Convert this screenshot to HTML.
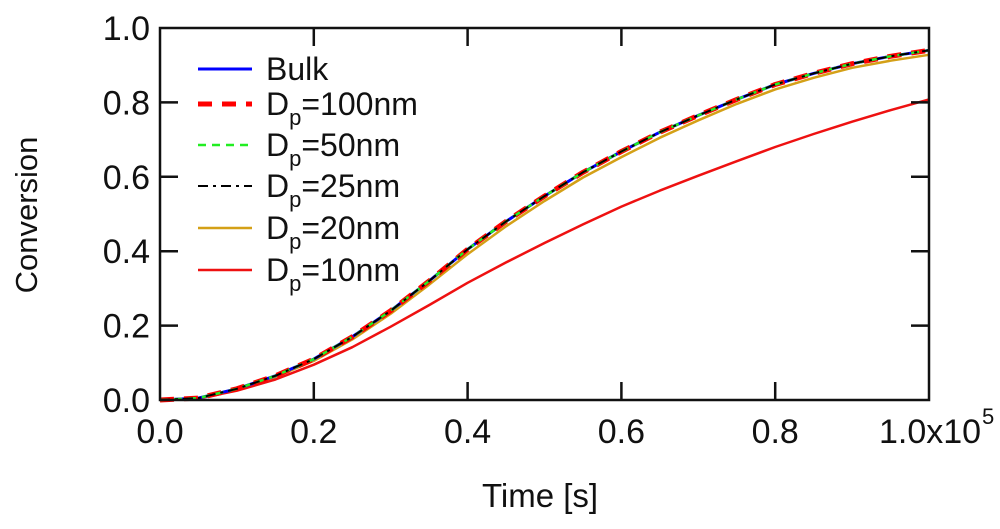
<!DOCTYPE html>
<html><head><meta charset="utf-8">
<style>
html,body{margin:0;padding:0;background:#fff;}
svg{display:block;font-family:"Liberation Sans",Arial,sans-serif;}
</style></head>
<body>
<svg id="chart" width="1000" height="529" viewBox="0 0 1000 529">
<g id="series"></g>
<g id="axes"></g>
<g id="legend"></g>
</svg>
<script>
const xs = [0, 0.05, 0.1, 0.15, 0.2, 0.25, 0.3, 0.35, 0.4, 0.45, 0.5, 0.55, 0.6, 0.65, 0.7, 0.75, 0.8, 0.85, 0.9, 0.95, 1.0];
const bulk = [0, 0.005, 0.03, 0.065, 0.11, 0.17, 0.24, 0.32, 0.405, 0.48, 0.548, 0.612, 0.668, 0.72, 0.765, 0.808, 0.848, 0.878, 0.904, 0.924, 0.94];
const dp100 = bulk.slice();
const dp50 = bulk.slice();
const dp25 = bulk.slice();
const dp20 = [0, 0.005, 0.028, 0.062, 0.105, 0.163, 0.232, 0.31, 0.392, 0.467, 0.535, 0.598, 0.653, 0.705, 0.752, 0.796, 0.835, 0.866, 0.893, 0.912, 0.928];
const dp10 = [0, 0.004, 0.025, 0.055, 0.095, 0.142, 0.197, 0.255, 0.315, 0.37, 0.422, 0.472, 0.52, 0.563, 0.603, 0.642, 0.68, 0.715, 0.748, 0.779, 0.808];
const xTicks = [0, 0.2, 0.4, 0.6, 0.8, 1.0];
const xTickLabels = ["0.0", "0.2", "0.4", "0.6", "0.8", "1.0x10"];
const yTicks = [0, 0.2, 0.4, 0.6, 0.8, 1.0];
const yTickLabels = ["0.0", "0.2", "0.4", "0.6", "0.8", "1.0"];
const seriesNames = ["Bulk", "100nm", "50nm", "25nm", "20nm", "10nm"];

const L = 160, R = 929, T = 28, B = 400;
const X = v => L + v * (R - L);
const Y = v => B - v * (B - T);
const NS = "http://www.w3.org/2000/svg";
function mk(tag, attrs, parent) {
  const e = document.createElementNS(NS, tag);
  for (const k in attrs) e.setAttribute(k, attrs[k]);
  parent.appendChild(e);
  return e;
}
const gS = document.getElementById('series');
const gA = document.getElementById('axes');
const gL = document.getElementById('legend');

const styles = [
  {data: bulk, color: "#0000ff", w: 3, dash: ""},
  {data: dp100, color: "#ff0000", w: 5, dash: "14 10"},
  {data: dp50, color: "#22ee22", w: 2.5, dash: "8 6"},
  {data: dp25, color: "#000000", w: 2, dash: "10 5 3 5"},
  {data: dp20, color: "#d4a017", w: 2.5, dash: ""},
  {data: dp10, color: "#ee1111", w: 2.5, dash: ""}
];
const order = [4, 5, 0, 1, 2, 3];
order.forEach(i => {
  const s = styles[i];
  const pts = xs.map((x, j) => X(x).toFixed(1) + "," + Y(s.data[j]).toFixed(1)).join(" ");
  const p = mk('polyline', {points: pts, fill: "none", stroke: s.color, "stroke-width": s.w, "stroke-dasharray": s.dash, "stroke-linejoin": "round"}, gS);
  
  
});

const fr = mk('rect', {x: L, y: T, width: R - L, height: B - T, fill: "none", stroke: "#111", "stroke-width": 2.5}, gA);



xTicks.forEach((v, i) => {
  if (i > 0 && i < xTicks.length - 1) {
    mk('line', {x1: X(v), y1: B, x2: X(v), y2: B - 18, stroke: "#111", "stroke-width": 2.5}, gA);
    mk('line', {x1: X(v), y1: T, x2: X(v), y2: T + 18, stroke: "#111", "stroke-width": 2.5}, gA);
  }
  const t = mk('text', {x: X(v), y: 443, "font-size": 34, "text-anchor": "middle", fill: "#111"}, gA);
  t.textContent = xTickLabels[i];
  
  
  if (i === xTicks.length - 1) {
    t.setAttribute('x', X(v) - 50);
    t.setAttribute('text-anchor', 'start');
    const sup = mk('text', {x: X(v) + 53, y: 424, "font-size": 22, "text-anchor": "start", fill: "#111"}, gA);
    sup.textContent = "5";
    
    
  }
});
yTicks.forEach((v, i) => {
  if (i > 0 && i < yTicks.length - 1) {
    mk('line', {x1: L, y1: Y(v), x2: L + 18, y2: Y(v), stroke: "#111", "stroke-width": 2.5}, gA);
    mk('line', {x1: R, y1: Y(v), x2: R - 18, y2: Y(v), stroke: "#111", "stroke-width": 2.5}, gA);
  }
  const t = mk('text', {x: 150, y: Y(v) + 12, "font-size": 34, "text-anchor": "end", fill: "#111"}, gA);
  t.textContent = yTickLabels[i];
  
  
});
const xt = mk('text', {x: 540, y: 507, "font-size": 33, "text-anchor": "middle", fill: "#111"}, gA);
xt.textContent = "Time [s]";


const yt = mk('text', {x: 0, y: 0, "font-size": 31, "text-anchor": "middle", fill: "#111", transform: "translate(37,215) rotate(-90)"}, gA);
yt.textContent = "Conversion";



const legY = [69, 104, 145, 186, 228, 270];
styles.forEach((s, i) => {
  const g = mk('g', {}, gL);
  
  
  mk('line', {x1: 198, y1: legY[i], x2: 252, y2: legY[i], stroke: s.color, "stroke-width": s.w, "stroke-dasharray": s.dash}, g);
  const t = mk('text', {x: 266, y: legY[i] + 11, "font-size": 32, fill: "#111"}, g);
  if (i === 0) { t.textContent = "Bulk"; }
  else {
    t.textContent = "D";
    const sub = mk('tspan', {"font-size": 22, dy: 10}, t); sub.textContent = "p";
    const rest = mk('tspan', {dy: -10}, t); rest.textContent = "=" + seriesNames[i];
  }
});
</script>
</body></html>
